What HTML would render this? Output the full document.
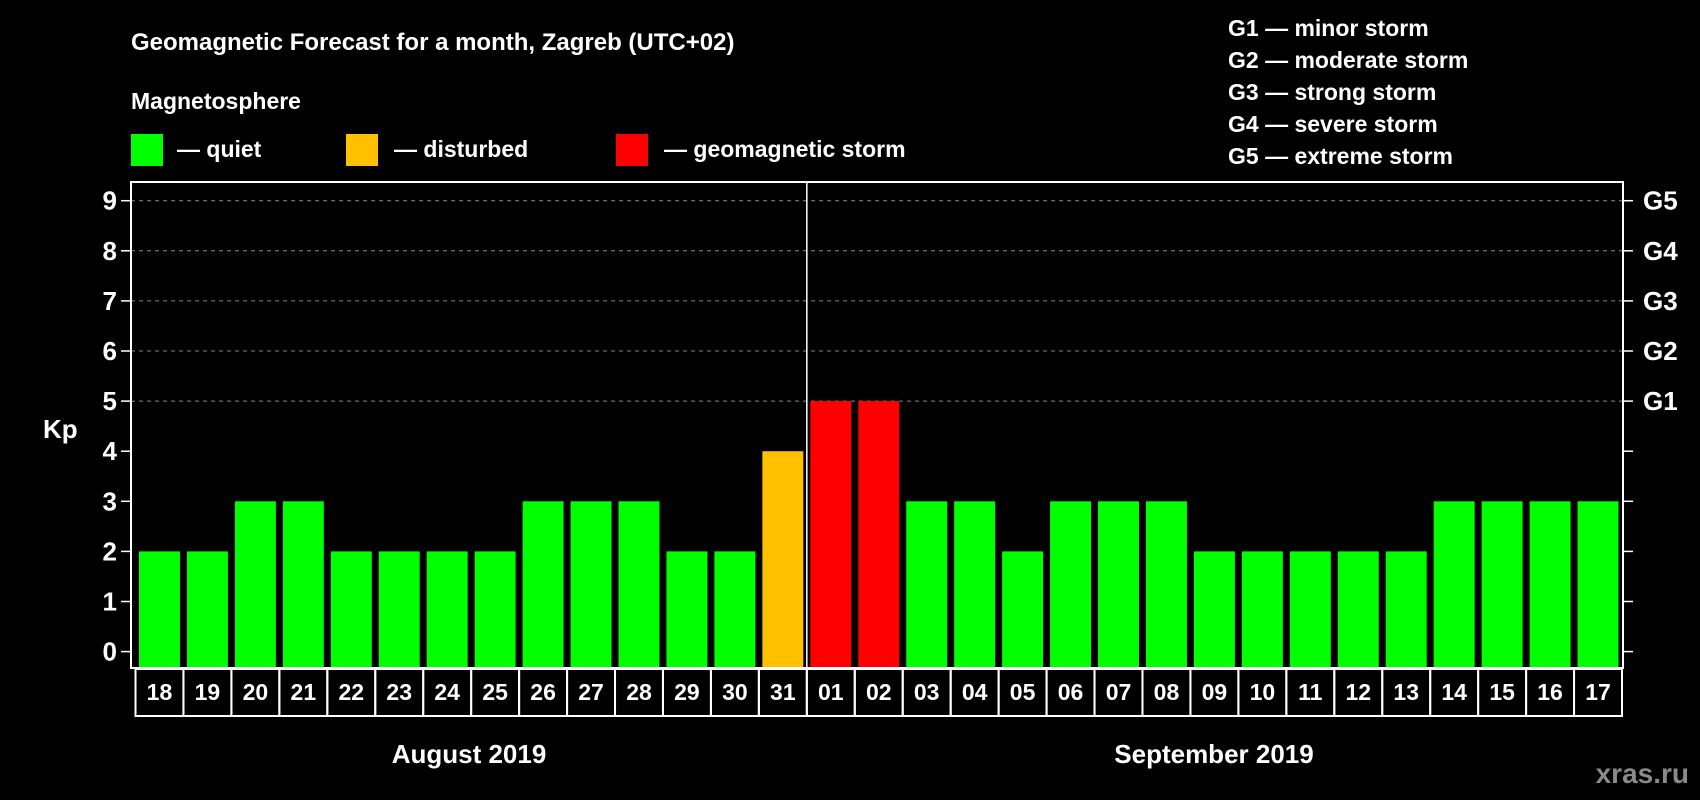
<!DOCTYPE html>
<html><head><meta charset="utf-8"><style>
html,body{margin:0;padding:0;background:#000;width:1700px;height:800px;overflow:hidden}
svg text{font-family:"Liberation Sans",Arial,sans-serif;font-weight:bold;fill:#fff}
</style></head><body>
<svg id="chart" width="1700" height="800" xmlns="http://www.w3.org/2000/svg">
<rect width="1700" height="800" fill="#000"/>
<text x="131" y="50" font-size="24">Geomagnetic Forecast for a month, Zagreb (UTC+02)</text>
<text x="131" y="109" font-size="23">Magnetosphere</text>
<rect x="131" y="134" width="32" height="32" fill="#00ff00"/>
<text x="177" y="157" font-size="23">— quiet</text>
<rect x="346" y="134" width="32" height="32" fill="#ffc000"/>
<text x="394" y="157" font-size="23">— disturbed</text>
<rect x="616" y="134" width="32" height="32" fill="#ff0000"/>
<text x="664" y="157" font-size="23">— geomagnetic storm</text>
<g font-size="23">
<text x="1228" y="36">G1 — minor storm</text>
<text x="1228" y="68">G2 — moderate storm</text>
<text x="1228" y="100">G3 — strong storm</text>
<text x="1228" y="132">G4 — severe storm</text>
<text x="1228" y="164">G5 — extreme storm</text>
</g>
<text x="43" y="438" font-size="26">Kp</text>
<g id="grid"></g><g id="bars"></g><g id="axes"></g>
<text x="469" y="763" font-size="26" text-anchor="middle">August 2019</text>
<text x="1214" y="763" font-size="26" text-anchor="middle">September 2019</text>
<text x="1689" y="783" font-size="28" text-anchor="end" style="fill:#8a8a8a">xras.ru</text>
</svg>
<script>
const days=["18","19","20","21","22","23","24","25","26","27","28","29","30","31","01","02","03","04","05","06","07","08","09","10","11","12","13","14","15","16","17"];
const kp=[2,2,3,3,2,2,2,2,3,3,3,2,2,4,5,5,3,3,2,3,3,3,2,2,2,2,2,3,3,3,3];
const yTicks=[0,1,2,3,4,5,6,7,8,9];
const gLabels=["G1","G2","G3","G4","G5"];
const gLevels=[5,6,7,8,9];
const NS="http://www.w3.org/2000/svg";
const L=135.5,R=1622,PT=182,PB=668,PL=131,PR=1623;
const cw=(R-L)/days.length;
const y=v=>651.6-v*50.1;
const x=i=>L+i*cw;
function mk(t,a,p){const e=document.createElementNS(NS,t);for(const k in a)e.setAttribute(k,a[k]);p.appendChild(e);return e;}
const grid=document.getElementById('grid'),bars=document.getElementById('bars'),axes=document.getElementById('axes');
yTicks.forEach(v=>{
  if(v>=5){const g=mk('line',{x1:PL,x2:PR,y1:y(v),y2:y(v),stroke:'#888','stroke-dasharray':'4,4','stroke-width':1},grid);
  
  }
  const t=mk('line',{x1:PL-10,x2:PL,y1:y(v),y2:y(v),stroke:'#fff','stroke-width':1.5},axes);
  
  
  const t2=mk('line',{x1:PR,x2:PR+10,y1:y(v),y2:y(v),stroke:'#fff','stroke-width':1.5},axes);
  
  
  const l=mk('text',{x:117,y:y(v)+9,'font-size':26,'text-anchor':'end'},axes);l.textContent=v;
  
  
});
gLabels.forEach((g,i)=>{const l=mk('text',{x:1643,y:y(gLevels[i])+9,'font-size':26},axes);l.textContent=g;
  
  });
kp.forEach((v,i)=>{
  const c=v>=5?'#ff0000':(v==4?'#ffc000':'#00ff00');
  const b=mk('rect',{x:x(i)+3.5,y:y(v),width:cw-7,height:PB-y(v),fill:c},bars);
  
  
  const cell=mk('rect',{x:x(i),y:669,width:cw,height:47,fill:'none',stroke:'#fff','stroke-width':2},axes);
  
  
  const t=mk('text',{x:x(i)+cw/2,y:700,'font-size':23,'text-anchor':'middle'},axes);t.textContent=days[i];
  
  
});
const sep=mk('line',{x1:x(14),x2:x(14),y1:PT,y2:PB,stroke:'#fff','stroke-width':1.5},axes);


const box=mk('rect',{x:PL,y:PT,width:PR-PL,height:PB-PT,fill:'none',stroke:'#fff','stroke-width':2},axes);


</script>
</body></html>
